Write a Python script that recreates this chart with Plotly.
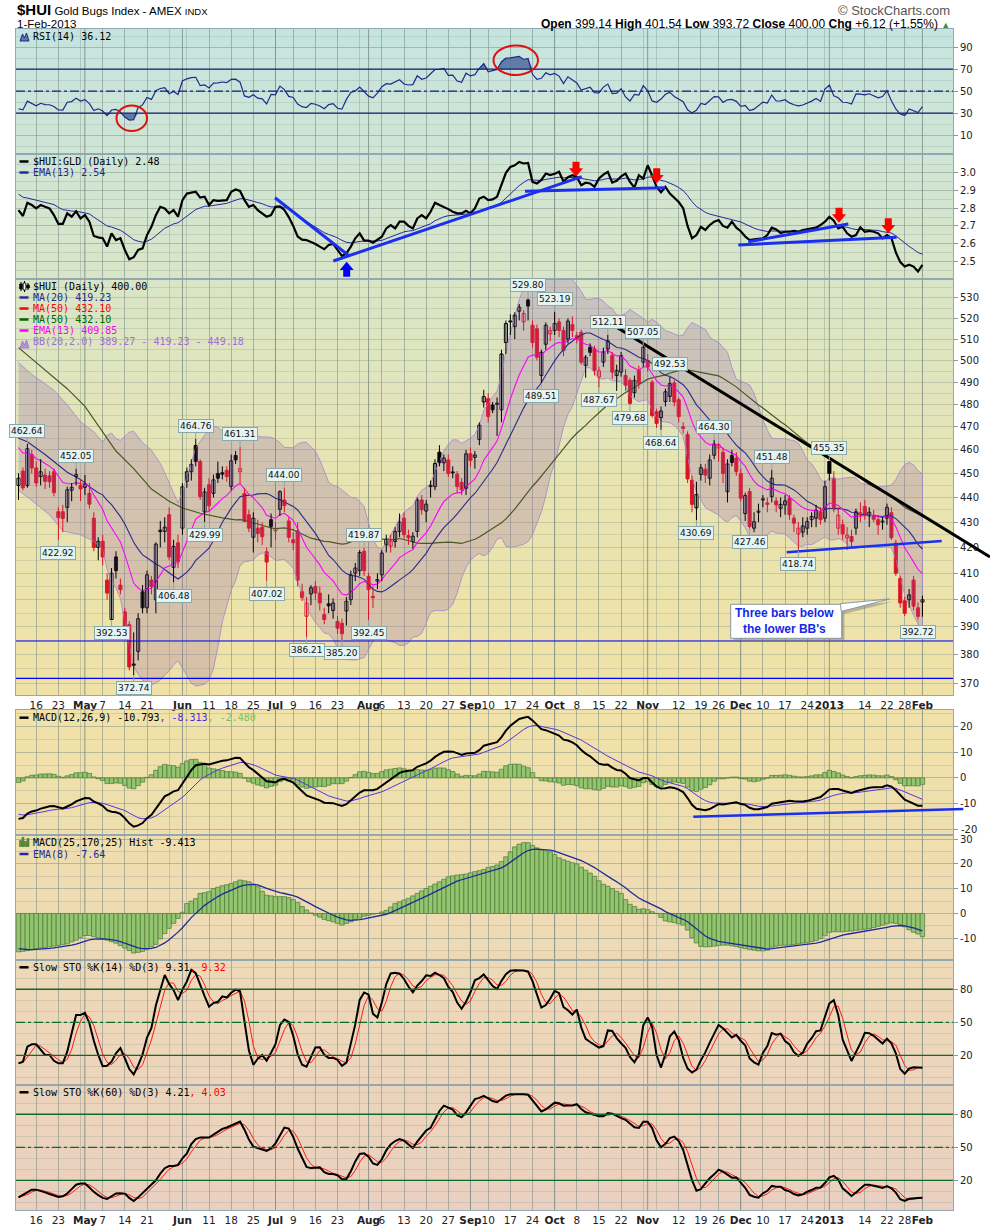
import numpy as np
import pandas as pd
import plotly.graph_objects as go

# ---------------------------------------------------------------- data
HOLIDAYS = ["2012-05-28", "2012-07-04", "2012-09-03", "2012-10-29", "2012-10-30",
            "2012-11-22", "2012-12-25", "2013-01-01", "2013-01-21"]
TRADING_DAYS = [d for d in pd.bdate_range("2012-04-10", "2013-02-01")
                if d.strftime("%Y-%m-%d") not in HOLIDAYS]

TICK_DATES = ["2012-04-16", "2012-04-23", "2012-05-01", "2012-05-07", "2012-05-14", "2012-05-21",
              "2012-06-01", "2012-06-11", "2012-06-18", "2012-06-25", "2012-07-02", "2012-07-09",
              "2012-07-16", "2012-07-23", "2012-08-01", "2012-08-06", "2012-08-13", "2012-08-20",
              "2012-08-27", "2012-09-04", "2012-09-10", "2012-09-17", "2012-09-24", "2012-10-01",
              "2012-10-08", "2012-10-15", "2012-10-22", "2012-11-01", "2012-11-12", "2012-11-19",
              "2012-11-26", "2012-12-03", "2012-12-10", "2012-12-17", "2012-12-24", "2013-01-02",
              "2013-01-14", "2013-01-22", "2013-01-28", "2013-02-01"]
TICK_LABELS = ["16", "23", "May", "7", "14", "21", "Jun", "11", "18", "25", "Jul", "9", "16", "23",
               "Aug", "6", "13", "20", "27", "Sep", "10", "17", "24", "Oct", "8", "15", "22", "Nov",
               "12", "19", "26", "Dec", "10", "17", "24", "2013", "14", "22", "28", "Feb"]
MONTH_LABELS = ["May", "Jun", "Jul", "Aug", "Sep", "Oct", "Nov", "Dec", "2013", "Feb"]

OPEN = [445, 451, 445, 458, 452.3, 448.7, 449.3, 449, 450.7, 434.2,
        434.2, 436, 443, 448.7, 445, 444.2, 441.7, 431.6, 420, 422.4,
        407.4, 392.7, 416.3, 405.5, 395.5, 390.8, 376.6, 381.2, 403, 397,
        407.4, 400, 426.8, 426.3, 433, 412.3, 421.8, 427.6, 446.7, 450.7,
        461.9, 455, 434.2, 445.3, 441.7, 450, 450.3, 451.3, 444.6, 457.6,
        450.7, 441.7, 433, 424, 427.6, 428, 418.3, 431, 426.5, 435.2,
        439, 430.5, 423, 426.5, 403, 393.9, 402.2, 405, 402.5, 394.5,
        398.5, 396, 392, 391.3, 395.8, 400, 410, 411, 418.5, 408.8,
        401.2, 407, 409.4, 421, 420.5, 422.3, 426.3, 431.6, 424.6, 422.3,
        426.3, 439, 434.5, 444.5, 444.5, 459, 454.5, 455.7, 450.5, 449.7,
        446.3, 443.8, 458.3, 456.8, 464.5, 481, 482.5, 479.7, 480, 477.5,
        508.4, 518.3, 516, 523.5, 518.3, 529, 516.7, 515, 493, 507.6,
        512.5, 514.2, 518.3, 514.2, 510, 517, 511.7, 513.3, 497.7, 506.2,
        505.4, 492.3, 499.2, 505.4, 502.3, 493, 494.6, 493, 490.8, 485.2,
        495.4, 499.2, 500, 490, 476.7, 474, 481.2, 483.5, 489.6, 482,
        470, 466.6, 447.2, 435.8, 449.6, 451.8, 448, 457.7, 460.8, 459,
        442.4, 457.6, 456.5, 450, 433.5, 442.5, 427.6, 434, 439, 437.8,
        440.4, 438.6, 435.6, 437, 439.7, 431.6, 425.3, 426, 427.6, 431,
        431.6, 434.2, 431.6, 455, 448, 427.6, 429, 423.7, 424.3, 427.6,
        432.8, 436.3, 432.5, 432.8, 431, 430, 431.6, 433.8, 421.7, 408,
        399.6, 400, 407.4, 397, 399.14]
HIGH = [450, 452.5, 462.64, 460, 455, 456, 452, 451, 452, 436,
        437, 444.5, 446, 452.05, 447.5, 449.3, 446, 434, 424, 425,
        410, 412, 418.5, 408, 397, 392, 388, 395, 405.5, 411,
        409, 422, 430.5, 432, 436, 423, 425, 446, 452.5, 456,
        464.76, 456, 444, 448, 449.5, 455, 453, 453, 458, 459.5,
        461.31, 444, 435, 434, 431, 430, 420, 433.5, 430, 443,
        444, 432, 426, 430, 406, 401, 405.5, 407, 405, 397,
        402, 400.5, 394, 393, 401, 411, 414, 419, 419.87, 410,
        405, 410, 419, 425, 425, 428, 433.5, 434, 427, 426,
        440, 441, 439, 447, 456, 462, 458, 458, 453, 451,
        448, 460, 461, 459.5, 472, 486.5, 485, 481, 483, 505,
        519, 522, 523, 527, 524, 529.8, 519, 517, 505, 518,
        516, 523.19, 520, 516, 520, 521, 513.5, 514.5, 502.5, 508,
        507, 497, 506, 512.11, 504, 498, 504, 496, 492, 493,
        497.5, 507.05, 503, 491, 478, 479, 487, 492.53, 491, 483,
        472, 468, 449, 446.5, 454, 454, 458, 464.3, 463, 461,
        456, 460, 459, 452, 442, 444, 434, 437.5, 441, 440,
        451.48, 440, 440, 441, 441, 433, 430, 432, 432, 434,
        437, 436, 447, 455.35, 451, 436, 431, 428, 427, 435.5,
        438, 439, 436, 435, 433, 432, 437.5, 436, 423, 409,
        401, 404, 409, 399, 401.54]
LOW = [439, 443, 444, 450, 444.5, 445, 443.5, 444, 440.5, 422.92,
       426, 430, 438.5, 445, 438.5, 441, 435.5, 418.5, 415, 413,
       400, 392.53, 408, 402, 386, 374.5, 372.74, 378, 395, 395,
       402, 395, 420, 422, 415, 406.48, 412, 425, 444, 447,
       453, 439, 429.99, 434.5, 440, 446, 447.5, 446.5, 443, 454,
       446, 430, 426, 418, 422, 421, 407.02, 420, 423, 432.5,
       434, 422, 419, 405, 399.5, 386.21, 398, 400, 396, 391,
       395, 393, 387.5, 385.2, 390.5, 398, 407, 409, 409, 392.45,
       397, 404, 407, 418, 418, 420, 424, 423.5, 421, 419.5,
       424, 433, 430, 440, 443, 453, 451, 448.5, 448, 442,
       441, 441, 453, 452, 462, 478.5, 472, 476, 466, 472,
       503, 512, 510, 519, 514, 519, 506, 500, 489.51, 505,
       509, 512, 511, 502, 508, 511, 508, 498, 492, 502,
       493, 487.67, 497, 503, 491.5, 486, 492.5, 486, 479.68, 483,
       487, 497, 495, 474, 469.5, 468.64, 479, 481, 479, 472,
       467, 446, 434, 430.69, 447, 446, 445, 456, 455, 446,
       438, 453, 449, 438.5, 430.5, 427.46, 426, 430, 436, 434,
       438, 434, 432, 433, 431, 426, 418.74, 424, 425, 428,
       428, 429, 430, 447, 434, 425, 423, 419, 420, 425,
       430, 431, 428, 430, 425, 427, 429, 423, 409, 397,
       394, 397, 396, 392.72, 393.72]
CLOSE = [448, 444, 460.5, 452.3, 446, 450.7, 446.7, 446.5, 442, 431.8,
         431.5, 443.2, 444.2, 449.5, 443.5, 445.5, 437.3, 420, 422.4, 416.3,
         402.5, 410, 411, 403.8, 387.3, 375.7, 376.3, 393, 397, 409.4,
         405, 421.3, 426.2, 428, 416.3, 420.4, 414.5, 444.4, 450.7, 453.8,
         455, 440.4, 442.3, 436.6, 447.3, 448, 449.7, 448.7, 455.3, 455.7,
         452, 430.3, 427.6, 431.6, 425.5, 424.2, 414.3, 428.3, 427.4, 442.4,
         436.7, 424, 421.8, 407.4, 400.8, 398.7, 404.5, 402.5, 398.8, 392.7,
         397.7, 398.8, 389.5, 387.5, 399.4, 409.4, 412, 418, 411, 403.8,
         400.8, 407.6, 417.8, 423.2, 422.5, 426.3, 430, 425, 423.8, 424.4,
         439, 435, 437.3, 445, 454.2, 454.5, 456.5, 450, 450.2, 444.5,
         443.2, 458.3, 455.5, 457.8, 470.7, 483.4, 474.5, 477.5, 480.1, 503,
         517.5, 518.5, 521.6, 525.5, 522.4, 526, 508.4, 501.5, 503.8, 516.7,
         514.2, 517.5, 514.2, 504.6, 518.7, 514.2, 510, 499.2, 501.5, 503.8,
         495.4, 495.2, 504, 509.2, 494.6, 495.4, 502.3, 488.5, 480.4, 490.8,
         489.5, 506.2, 497, 475, 471.5, 477, 485.6, 489.3, 481, 474.5,
         469.3, 447.7, 437.2, 441.2, 452.4, 449.3, 455.7, 462.5, 462.2, 450,
         454, 454.6, 450.7, 439.7, 440.8, 428.3, 430.2, 434.2, 439.1, 437.2,
         448, 437, 437.2, 438.6, 433, 429.6, 427.6, 428.5, 430.3, 432.3,
         434.8, 431, 444.5, 450, 435.6, 432.8, 425.3, 424.9, 422.3, 434.2,
         433.8, 432.9, 434, 431.2, 429, 430.3, 436, 423.8, 410, 398.8,
         395, 401.8, 397.6, 393.88, 400.0]

HUI_GLD = [2.789, 2.756, 2.831, 2.818, 2.799, 2.818, 2.808, 2.799, 2.761, 2.711,
           2.711, 2.771, 2.752, 2.782, 2.742, 2.761, 2.724, 2.643, 2.635, 2.630,
           2.583, 2.658, 2.620, 2.630, 2.564, 2.511, 2.523, 2.564, 2.573, 2.648,
           2.695, 2.761, 2.808, 2.799, 2.771, 2.789, 2.752, 2.846, 2.883, 2.890,
           2.893, 2.860, 2.865, 2.818, 2.846, 2.842, 2.846, 2.846, 2.893, 2.906,
           2.898, 2.846, 2.808, 2.818, 2.789, 2.771, 2.752, 2.761, 2.808, 2.810,
           2.790, 2.750, 2.700, 2.640, 2.622, 2.620, 2.611, 2.598, 2.583, 2.568,
           2.592, 2.598, 2.564, 2.530, 2.545, 2.583, 2.630, 2.658, 2.617, 2.617,
           2.605, 2.620, 2.639, 2.686, 2.705, 2.686, 2.724, 2.724, 2.700, 2.686,
           2.742, 2.761, 2.742, 2.780, 2.831, 2.818, 2.808, 2.795, 2.780, 2.771,
           2.771, 2.786, 2.771, 2.799, 2.855, 2.865, 2.846, 2.850, 2.865, 2.930,
           3.000, 3.034, 3.043, 3.062, 3.053, 3.056, 2.949, 2.940, 2.960, 2.996,
           2.987, 2.995, 3.006, 2.950, 2.975, 2.987, 2.977, 2.930, 2.944, 2.940,
           2.921, 2.968, 2.990, 3.006, 2.945, 2.955, 2.980, 2.996, 2.949, 2.917,
           2.987, 2.968, 3.043, 2.985, 2.920, 2.890, 2.921, 2.883, 2.860, 2.835,
           2.800, 2.700, 2.630, 2.648, 2.695, 2.677, 2.705, 2.724, 2.733, 2.700,
           2.690, 2.724, 2.690, 2.670, 2.640, 2.620, 2.624, 2.627, 2.630, 2.648,
           2.690, 2.680, 2.660, 2.667, 2.667, 2.672, 2.667, 2.677, 2.682, 2.686,
           2.690, 2.705, 2.724, 2.752, 2.730, 2.686, 2.695, 2.658, 2.639, 2.648,
           2.692, 2.667, 2.672, 2.667, 2.658, 2.630, 2.648, 2.630, 2.550, 2.495,
           2.470, 2.480, 2.470, 2.442, 2.479]

MACD_25_170_HIST = [-15.5, -15.3, -15.0, -14.6, -14.3, -14.0, -13.8, -13.5, -13.2, -12.9,
                    -12.6, -12.3, -11.5, -10.8, -9.8, -8.9, -8.9, -9.4, -9.8, -10.3,
                    -10.8, -11.4, -12.0, -13.0, -14.0, -15.0, -16.0, -15.7, -15.3, -14.5,
                    -13.5, -12.5, -10.3, -8.1, -6.0, -4.0, -2.0, 0.5, 4.0, 5.0,
                    6.0, 8.1, 8.4, 8.8, 10.1, 10.6, 11.2, 11.6, 12.1, 12.8,
                    13.5, 13.2, 12.8, 11.8, 10.8, 9.0, 7.4, 7.1, 6.8, 6.8,
                    6.8, 6.4, 5.6, 4.4, 2.8, 1.4, 0.2, -0.7, -1.5, -2.4,
                    -2.9, -3.4, -4.0, -4.7, -4.0, -3.4, -2.6, -1.8, -1.1, -0.7,
                    -0.3, 0.0, 0.6, 1.3, 2.6, 4.0, 4.7, 5.4, 6.1, 7.1,
                    8.1, 9.1, 10.1, 11.0, 11.9, 12.8, 13.8, 14.8, 15.2, 15.5,
                    15.7, 15.9, 16.4, 16.9, 17.3, 17.8, 18.6, 19.0, 19.6, 21.0,
                    22.9, 24.9, 26.9, 28.0, 28.6, 28.6, 27.5, 26.5, 25.5, 25.3,
                    24.9, 23.8, 22.5, 21.7, 21.1, 20.5, 20.0, 18.7, 17.5, 16.3,
                    15.0, 13.2, 11.8, 11.0, 10.0, 9.0, 8.1, 5.6, 3.7, 2.8,
                    1.7, 1.9, 1.5, 0.7, 0.0, -1.6, -3.0, -3.4, -3.7, -4.2,
                    -4.7, -6.7, -9.8, -11.9, -13.3, -13.5, -13.4, -13.2, -12.9, -12.8,
                    -12.8, -13.1, -13.4, -13.8, -14.2, -14.5, -14.8, -15.1, -15.1, -14.8,
                    -13.6, -13.2, -12.9, -12.8, -12.8, -12.6, -12.3, -12.0, -11.7, -11.4,
                    -10.9, -10.2, -9.0, -7.6, -7.4, -7.4, -7.4, -7.2, -7.1, -6.8,
                    -6.6, -6.4, -6.2, -5.7, -5.2, -4.7, -4.1, -3.8, -4.0, -4.6,
                    -5.4, -6.6, -7.6, -8.3, -9.413]

STO14_K_START = [12.7, 14.2, 27.9, 30.0, 30.0, 24.8, 20.3, 20.3, 15.0, 12.7,
                 12.7, 23.3, 40.0, 56.7, 56.7]
STO60_K_START = [4.5, 7.0, 9.5, 11.5, 11.5, 10.5, 9.0, 7.5, 6.0, 4.8,
                 5.5, 8.0, 12.0, 16.0, 17.0, 17.0, 13.5, 9.5, 6.5, 4.0,
                 3.0, 5.5, 8.0, 8.2, 7.9, 4.0, 1.2, 4.5, 8.5, 12.5,
                 16.0, 20.0, 26.0, 31.0, 33.0, 33.0, 34.0, 40.0, 44.5, 53.0,
                 57.5, 58.8, 58.8, 58.8, 61.5, 64.5, 66.7, 68.0, 70.0, 72.0,
                 73.3, 66.0, 57.0, 50.6, 49.0, 48.0, 46.7, 49.0, 53.6, 61.0,
                 67.9]
MA20_START_DAYS = [0, 2, 6, 11, 14, 16, 18]
MA20_START = [465, 463.5, 458, 450.5, 447.5, 444.5, 442]
MA50_START_DAYS = [0, 4, 8, 11, 15, 19, 22, 26, 30, 34, 37, 41, 46]
MA50_START = [506, 499, 492.5, 487, 479, 468, 459.5, 452, 443.5, 438.5, 435.7, 433.6, 431.7]
BBU_START_DAYS = [0, 3, 8, 11, 14, 17]
BBU_START = [499, 493.5, 486.3, 479.7, 472.2, 467.8]
BBL_START_DAYS = [0, 3, 7, 10, 14, 17]
BBL_START = [443, 438.8, 433, 426.5, 425, 422.4]
EMA13_START = 461.0
RSI_START_GAIN, RSI_START_LOSS = 3.35, 6.5
MACD_START_EMA12, MACD_START_EMA26, MACD_START_SIGNAL = 455.0, 471.0, -14.2
RATIO_EMA13_START = 2.88
HIST_EMA8_START = -14.2

PRICE_LABELS = [(2, 462.64, 1), (13, 452.05, 1), (9, 422.92, 0), (21, 392.53, 0), (26, 372.74, 0),
                (40, 464.76, 1), (42, 429.99, 0), (50, 461.31, 1), (35, 406.48, 0), (60, 444.00, 1),
                (56, 407.02, 0), (65, 386.21, 0), (73, 385.20, 0), (79, 392.45, 0), (78, 419.87, 1),
                (115, 529.80, 1), (121, 523.19, 1), (118, 489.51, 0), (131, 487.67, 0),
                (133, 512.11, 1), (138, 479.68, 0), (141, 507.05, 1), (145, 468.64, 0),
                (147, 492.53, 1), (157, 464.30, 1), (153, 430.69, 0), (170, 451.48, 1),
                (165, 427.46, 0), (176, 418.74, 0), (183, 455.35, 1), (203, 392.72, 0)]

N = len(TRADING_DAYS)
assert N == 205 and all(len(a) == N for a in (OPEN, HIGH, LOW, CLOSE, HUI_GLD, MACD_25_170_HIST))
assert len(TICK_DATES) == len(TICK_LABELS)

# ---------------------------------------------------------------- indicators
O, H, L, C = (np.array(a, float) for a in (OPEN, HIGH, LOW, CLOSE))
XI = np.arange(N)


def ema(a, n, seed):
    k = 2.0 / (n + 1)
    out = np.empty(len(a))
    out[0] = seed
    for i in range(1, len(a)):
        out[i] = out[i - 1] + k * (a[i] - out[i - 1])
    return out


def slow_k(n):
    hh = pd.Series(H).rolling(n).max()
    ll = pd.Series(L).rolling(n).min()
    fk = 100 * (pd.Series(C) - ll) / (hh - ll)
    return fk.rolling(3).mean().to_numpy()


cs = pd.Series(C)
ma20 = cs.rolling(20).mean().to_numpy()
sd20 = cs.rolling(20).std(ddof=0).to_numpy()
ma50 = cs.rolling(50).mean().to_numpy()
ema13 = ema(C, 13, EMA13_START)

ag, al = RSI_START_GAIN, RSI_START_LOSS
rsi = [100 - 100 / (1 + ag / al)]
for i in range(1, N):
    d = C[i] - C[i - 1]
    ag = (ag * 13 + max(d, 0)) / 14
    al = (al * 13 + max(-d, 0)) / 14
    rsi.append(100 - 100 / (1 + ag / al))
rsi = np.array(rsi)

macd = ema(C, 12, MACD_START_EMA12) - ema(C, 26, MACD_START_EMA26)
macd_sig = ema(macd, 9, MACD_START_SIGNAL)
macd_hist = macd - macd_sig

hist2 = np.array(MACD_25_170_HIST)
hist2_ema = ema(hist2, 8, HIST_EMA8_START)

ratio = np.array(HUI_GLD)
ratio_ema = ema(ratio, 13, RATIO_EMA13_START)

k14 = slow_k(14)
k14[:len(STO14_K_START)] = STO14_K_START
d14 = pd.Series(k14).rolling(3, min_periods=1).mean().to_numpy()
k60 = slow_k(60)
k60[:len(STO60_K_START)] = STO60_K_START
d60 = pd.Series(k60).rolling(3, min_periods=1).mean().to_numpy()

day_str = [d.strftime("%Y-%m-%d") for d in TRADING_DAYS]
TICK_IDX = [day_str.index(d) for d in TICK_DATES]
TICK_TEXT = [("<b>%s</b>" % t) if t in MONTH_LABELS else t for t in TICK_LABELS]
week_starts = [i for i in range(1, N)
               if TRADING_DAYS[i].isocalendar()[1] != TRADING_DAYS[i - 1].isocalendar()[1]]
month_starts = [i for i in range(1, N) if TRADING_DAYS[i].month != TRADING_DAYS[i - 1].month]

# ---------------------------------------------------------------- geometry helpers
W, HGT = 990, 1226
ML, MR, MT, MB = 16, 37, 29, 16
PW, PH = W - ML - MR, HGT - MT - MB


def PX(x):
    return (x - ML) / PW


def PY(y):
    return (HGT - MB - y) / PH


PANELS = {1: (29, 154.3), 2: (154.3, 279.3), 3: (279.3, 695), 4: (710, 835),
          5: (835, 960), 6: (960, 1085), 7: (1085, 1210)}

fig = go.Figure()

# ---------------------------------------------------------------- background gradient
STOPS = [(29, (197, 228, 223)), (154, (207, 229, 213)), (279, (217, 229, 199)),
         (480, (231, 228, 178)), (695, (240, 226, 166)), (710, (240, 226, 168)),
         (835, (239, 222, 174)), (960, (238, 217, 182)), (1210, (234, 208, 192))]


def grad(y):
    for (y0, c0), (y1, c1) in zip(STOPS[:-1], STOPS[1:]):
        if y0 <= y <= y1:
            t = (y - y0) / (y1 - y0)
            return "rgb(%d,%d,%d)" % tuple(round(a + (b - a) * t) for a, b in zip(c0, c1))
    return "rgb(%d,%d,%d)" % STOPS[-1][1]


shapes = []
for (ya, yb) in [(29, 695), (710, 1210)]:
    y = ya
    while y < yb:
        y2 = min(y + 5, yb)
        shapes.append(dict(type="rect", xref="paper", yref="paper", x0=0, x1=1,
                           y0=PY(y2), y1=PY(y), fillcolor=grad((y + y2) / 2),
                           line=dict(width=0), layer="below"))
        y = y2
for m in month_starts:
    for (ya, yb) in [(29, 695), (710, 1210)]:
        shapes.append(dict(type="line", xref="x", yref="paper", x0=m, x1=m, y0=PY(yb), y1=PY(ya),
                           line=dict(color="rgba(105,120,115,0.55)", width=1), layer="below"))

# ---------------------------------------------------------------- RSI panel
fig.add_trace(go.Scatter(x=XI, y=[70] * N, mode="lines", line=dict(width=0), xaxis="x", yaxis="y",
                         hoverinfo="skip"))
fig.add_trace(go.Scatter(x=XI, y=np.maximum(rsi, 70), mode="lines", line=dict(width=0), fill="tonexty",
                         fillcolor="rgba(85,112,160,0.9)", xaxis="x", yaxis="y", hoverinfo="skip"))
fig.add_trace(go.Scatter(x=XI, y=[30] * N, mode="lines", line=dict(width=0), xaxis="x", yaxis="y",
                         hoverinfo="skip"))
fig.add_trace(go.Scatter(x=XI, y=np.minimum(rsi, 30), mode="lines", line=dict(width=0), fill="tonexty",
                         fillcolor="rgba(85,112,160,0.9)", xaxis="x", yaxis="y", hoverinfo="skip"))
fig.add_trace(go.Scatter(x=XI, y=rsi, mode="lines", line=dict(color="#1c2a8a", width=1.2),
                         xaxis="x", yaxis="y"))
for v, dash in [(70, "solid"), (30, "solid"), (50, "dashdot")]:
    shapes.append(dict(type="line", xref="paper", yref="y", x0=0, x1=1, y0=v, y1=v,
                       line=dict(color="#14206e", width=1.3, dash=dash)))

# ---------------------------------------------------------------- ratio panel
fig.add_trace(go.Scatter(x=XI, y=ratio_ema, mode="lines", line=dict(color="#2626a0", width=1),
                         xaxis="x2", yaxis="y2"))
fig.add_trace(go.Scatter(x=XI, y=ratio, mode="lines", line=dict(color="#000000", width=2.2),
                         xaxis="x2", yaxis="y2"))

# ---------------------------------------------------------------- price panel
bbu_x = BBU_START_DAYS + list(range(19, N))
bbu_y = BBU_START + list(ma20[19:] + 2 * sd20[19:])
bbl_x = BBL_START_DAYS + list(range(19, N))
bbl_y = BBL_START + list(ma20[19:] - 2 * sd20[19:])
fig.add_trace(go.Scatter(x=bbu_x + bbl_x[::-1], y=bbu_y + bbl_y[::-1], mode="lines", fill="toself",
                         fillcolor="rgba(150,105,170,0.27)", line=dict(color="rgba(170,135,205,0.85)", width=1),
                         xaxis="x3", yaxis="y3", hoverinfo="skip"))
fig.add_trace(go.Scatter(x=MA50_START_DAYS + list(range(49, N)), y=MA50_START + list(ma50[49:]),
                         mode="lines", line=dict(color="#4b5823", width=1.2), xaxis="x3", yaxis="y3"))
fig.add_trace(go.Scatter(x=MA20_START_DAYS + list(range(19, N)), y=MA20_START + list(ma20[19:]),
                         mode="lines", line=dict(color="#2a2a8c", width=1.1), xaxis="x3", yaxis="y3"))
fig.add_trace(go.Scatter(x=XI, y=ema13, mode="lines", line=dict(color="#ff00ff", width=1.1),
                         xaxis="x3", yaxis="y3"))

prevC = np.r_[O[0], C[:-1]]
up = C >= prevC
RED, BLK = "#dc1428", "#000000"
col = np.where(up, BLK, RED)
fillc = np.where(C < O, col, "#ffffff")
lo = np.minimum(O, C)
hgt = np.maximum(np.abs(C - O), 0.45)
for ccol, mask in [(BLK, up), (RED, ~up)]:
    wx, wy = [], []
    for i in np.where(mask)[0]:
        wx += [i, i, None]
        wy += [L[i], H[i], None]
    fig.add_trace(go.Scatter(x=wx, y=wy, mode="lines", line=dict(color=ccol, width=1),
                             xaxis="x3", yaxis="y3", hoverinfo="skip"))
fig.add_trace(go.Bar(x=XI, y=hgt, base=lo, width=0.7,
                     marker=dict(color=list(fillc), line=dict(color=list(col), width=1)),
                     xaxis="x3", yaxis="y3"))

# ---------------------------------------------------------------- MACD(12,26,9)
fig.add_trace(go.Bar(x=XI, y=macd_hist, width=1.0,
                     marker=dict(color="#93c46f", line=dict(color="#4d7a35", width=0.7)),
                     xaxis="x4", yaxis="y4"))
fig.add_trace(go.Scatter(x=XI, y=macd_sig, mode="lines", line=dict(color="#5a32e0", width=1),
                         xaxis="x4", yaxis="y4"))
fig.add_trace(go.Scatter(x=XI, y=macd, mode="lines", line=dict(color="#000000", width=2),
                         xaxis="x4", yaxis="y4"))

# ---------------------------------------------------------------- MACD(25,170,25) hist
fig.add_trace(go.Bar(x=XI, y=hist2, width=1.0,
                     marker=dict(color="#93c46f", line=dict(color="#4d7a35", width=0.7)),
                     xaxis="x5", yaxis="y5"))
fig.add_trace(go.Scatter(x=XI, y=hist2_ema, mode="lines", line=dict(color="#1e2a9a", width=1.3),
                         xaxis="x5", yaxis="y5"))

# ---------------------------------------------------------------- stochastics
for ax, k, d in [("6", k14, d14), ("7", k60, d60)]:
    fig.add_trace(go.Scatter(x=XI, y=d, mode="lines", line=dict(color="#ff1a1a", width=1),
                             xaxis="x" + ax, yaxis="y" + ax))
    fig.add_trace(go.Scatter(x=XI, y=k, mode="lines", line=dict(color="#000000", width=2),
                             xaxis="x" + ax, yaxis="y" + ax))
    for v, dash in [(80, "solid"), (20, "solid"), (50, "dashdot")]:
        shapes.append(dict(type="line", xref="paper", yref="y" + ax, x0=0, x1=1, y0=v, y1=v,
                           line=dict(color="#0c6a2a", width=1.3, dash=dash)))

# ---------------------------------------------------------------- drawings (hand-drawn objects)
BLUE = "#1a2ff0"


def seg(x0, y0, x1, y1, color, width):
    shapes.append(dict(type="line", xref="paper", yref="paper", x0=PX(x0), y0=PY(y0),
                       x1=PX(x1), y1=PY(y1), line=dict(color=color, width=width)))


def poly(pts, fill, line="rgba(0,0,0,0)", lw=0):
    path = "M " + " L ".join("%.5f,%.5f" % (PX(x), PY(y)) for x, y in pts) + " Z"
    shapes.append(dict(type="path", xref="paper", yref="paper", path=path, fillcolor=fill,
                       line=dict(color=line, width=lw)))


def arrow(tx, ty, down=True, color="#ff0000"):
    s = 1 if down else -1
    h, hh, w, sw = 15, 8.4, 14, 7
    pts = [(tx - sw / 2, ty - s * h), (tx + sw / 2, ty - s * h), (tx + sw / 2, ty - s * hh),
           (tx + w / 2, ty - s * hh), (tx, ty), (tx - w / 2, ty - s * hh), (tx - sw / 2, ty - s * hh)]
    poly(pts, color)


# ratio panel trend lines
seg(275, 197.7, 349.3, 256, BLUE, 3)
seg(333.3, 261, 581.7, 176.7, BLUE, 3)
seg(525, 191.3, 665, 187.7, BLUE, 3)
seg(738.3, 245, 896.7, 237.3, BLUE, 3)
seg(748.3, 241.7, 848.3, 224, BLUE, 3)
for tx, ty in [(576, 176.7), (656.7, 183.3), (839, 222.7), (888.3, 233.3)]:
    arrow(tx, ty, True, "#ff0000")
arrow(346.7, 261.7, False, "#0000ff")
# RSI circles
shapes.append(dict(type="circle", xref="paper", yref="paper", x0=PX(116.5), x1=PX(147),
                   y0=PY(131), y1=PY(105.5), line=dict(color="#e01010", width=2)))
shapes.append(dict(type="circle", xref="paper", yref="paper", x0=PX(493.5), x1=PX(538),
                   y0=PY(75), y1=PY(45.5), line=dict(color="#e01010", width=2)))
# price panel lines
seg(613, 325, 990, 557, "#000000", 3)
seg(786.7, 552.3, 941.7, 541, BLUE, 2.5)
seg(16, 641, 953, 641, "#0000ff", 1.2)
seg(16, 678.3, 953, 678.3, "#0000ff", 1.2)
# MACD support line
seg(693.3, 816.7, 963.3, 809, BLUE, 2.5)
# callout
shapes.append(dict(type="rect", xref="paper", yref="paper", x0=PX(733.5), x1=PX(844.5),
                   y0=PY(641), y1=PY(607), fillcolor="rgba(120,120,120,0.45)", line=dict(width=0)))
poly([(843, 606), (892, 602), (844, 614)], "rgba(120,120,120,0.45)")
shapes.append(dict(type="rect", xref="paper", yref="paper", x0=PX(730.7), x1=PX(841.7),
                   y0=PY(638.3), y1=PY(604.3), fillcolor="#ffffff", line=dict(color="#8a96a0", width=1)))
poly([(840.5, 603.6), (889.3, 599), (841.2, 611.5)], "#ffffff", "#8a96a0", 1)
# legend icons
poly([(20, 41), (22.5, 34), (24.5, 38), (26.5, 33), (29, 41)], "#5f78a6", "#1c2a8a", 1)
poly([(20, 348), (22.5, 341), (24.5, 345), (26.5, 340), (29, 348)], "rgba(160,120,200,0.7)", "#a07ad8", 1)
for k, (x, hh) in enumerate([(20.5, 6), (23, 9), (25.5, 5), (28, 8)]):
    shapes.append(dict(type="rect", xref="paper", yref="paper", x0=PX(x - 1), x1=PX(x + 1),
                       y0=PY(846.5), y1=PY(846.5 - hh), fillcolor="#5f9a3a", line=dict(color="#2d5a1a", width=0.5)))
for x, y0, y1, filled in [(21, 282, 291, True), (24.5, 281, 292, False), (28, 283, 290, True)]:
    shapes.append(dict(type="line", xref="paper", yref="paper", x0=PX(x), x1=PX(x), y0=PY(y1), y1=PY(y0),
                       line=dict(color="#000", width=1)))
    shapes.append(dict(type="rect", xref="paper", yref="paper", x0=PX(x - 1.3), x1=PX(x + 1.3),
                       y0=PY(y1 - 2), y1=PY(y0 + 2), fillcolor="#000" if filled else "#fff",
                       line=dict(color="#000", width=0.8)))
for y, c in [(161.5, "#000000"), (172.5, "#2626a0"), (297.5, "#2a2a8c"), (308.5, "#ff0000"),
             (319.5, "#006400"), (330.5, "#ff00ff"), (717.7, "#000000"), (854, "#1e2a9a"),
             (967.3, "#000000"), (1092.3, "#000000")]:
    seg(19.5, y, 28.5, y, c, 2.5)

# ---------------------------------------------------------------- annotations
anns = []


def T(x, y, text, size=10, color="#000", anchor="left", family="DejaVu Sans Mono"):
    anns.append(dict(x=PX(x), y=PY(y), xref="paper", yref="paper", text=text, showarrow=False,
                     xanchor=anchor, yanchor="middle", font=dict(size=size, color=color, family=family)))


T(15, 9.5, "<b><span style='font-size:15px'>$HUI</span></b> Gold Bugs Index - AMEX "
           "<span style='font-size:9.5px'>INDX</span>", size=11.5, family="Liberation Sans")
T(15, 24, "1-Feb-2013", size=11.5, family="Liberation Sans")
T(952, 10, "© StockCharts.com", size=13, color="#555", anchor="right", family="Liberation Sans")
T(952, 24, "<b>Open</b> 399.14 <b>High</b> 401.54 <b>Low</b> 393.72 <b>Close</b> 400.00 "
           "<b>Chg</b> +6.12 (+1.55%) <span style='color:#2c9a2c;font-size:9px'>▲</span>",
  size=12, anchor="right", family="Liberation Sans")

T(31, 36.5, "RSI(14) 36.12")
T(31, 161.5, "$HUI:GLD (Daily) 2.48")
T(31, 172.5, "EMA(13) 2.54", color="#2626a0")
T(31, 286.5, "$HUI (Daily) 400.00")
T(31, 297.5, "MA(20) 419.23", color="#2a2a8c")
T(31, 308.5, "MA(50) 432.10", color="#ff0000")
T(31, 319.5, "MA(50) 432.10", color="#006400")
T(31, 330.5, "EMA(13) 409.85", color="#ff00ff")
T(31, 341.5, "BB(20,2.0) 389.27 - 419.23 - 449.18", color="#a070d8")
T(31, 717.7, "MACD(12,26,9) -10.793<span style='color:#4a2ae0'>, -8.313</span>"
             "<span style='color:#7cc060'>, -2.480</span>")
T(31, 842.3, "MACD(25,170,25) Hist -9.413")
T(31, 854, "EMA(8) -7.64", color="#1e2a9a")
T(31, 967.3, "Slow STO %K(14) %D(3) 9.31<span style='color:#ff0000'>, 9.32</span>")
T(31, 1092.3, "Slow STO %K(60) %D(3) 4.21<span style='color:#ff0000'>, 4.03</span>")
T(733, 620.5, "<b>Three bars below<br>the lower BB's</b>", size=12, color="#1428e6",
  family="Liberation Sans")
# lowest MACD(12,26,9) scale label sits at the panel seam; written out explicitly
T(959, 829.2, "-20", size=10, color="#222", family="DejaVu Sans")

for i, v, hi in PRICE_LABELS:
    anns.append(dict(x=i, y=np.log10(v), xref="x3", yref="y3", text="%.2f" % v, showarrow=True,
                     arrowhead=0, arrowwidth=1, arrowcolor="#8aa8a8", ax=0, ay=-13 if hi else 13,
                     standoff=0, bgcolor="#e4f4f2", bordercolor="#8aa8a8", borderwidth=1, borderpad=1,
                     font=dict(size=9, family="DejaVu Sans", color="#111")))

# ---------------------------------------------------------------- axes
GRID = "rgba(120,140,130,0.33)"
LINE = "#94a8b4"
layout = dict(width=W, height=HGT, margin=dict(l=ML, r=MR, t=MT, b=MB, autoexpand=False),
              paper_bgcolor="#ffffff", plot_bgcolor="rgba(0,0,0,0)", showlegend=False,
              barmode="overlay", shapes=shapes, annotations=anns, hovermode=False)
YAX = {
    1: dict(range=[-7.3, 106.4], tickvals=[10, 30, 50, 70, 90], minor=dict(dtick=10, tick0=0)),
    2: dict(range=[2.398, 3.105], tickvals=[2.5, 2.6, 2.7, 2.8, 2.9, 3.0],
            ticktext=["2.5", "2.6", "2.7", "2.8", "2.9", "3.0"], minor=dict(dtick=0.05, tick0=0)),
    3: dict(type="log", range=[np.log10(366), np.log10(539.3)], tickvals=list(range(370, 531, 10)),
            ticktext=[str(v) for v in range(370, 531, 10)],
            minor=dict(tickmode="array", tickvals=list(range(365, 540, 10)))),
    4: dict(range=[-22.3, 26.5], tickvals=[-20, -10, 0, 10, 20],
            ticktext=["", "-10", "0", "10", "20"], minor=dict(dtick=5, tick0=0)),
    5: dict(range=[-18.8, 31.7], tickvals=[-10, 0, 10, 20, 30],
            ticktext=["-10", "0", "10", "20", "30"], minor=dict(dtick=5, tick0=0)),
    6: dict(range=[-7, 106.6], tickvals=[20, 50, 80], minor=dict(dtick=10, tick0=0)),
    7: dict(range=[-7, 106.6], tickvals=[20, 50, 80], minor=dict(dtick=10, tick0=0)),
}
for n in range(1, 8):
    ya, yb = PANELS[n]
    sfx = "" if n == 1 else str(n)
    layout["xaxis" + sfx] = dict(
        domain=[0, 1], anchor="y" + sfx, range=[-0.564, 210.9], tickmode="array", tickvals=TICK_IDX,
        ticktext=TICK_TEXT, showticklabels=n in (3, 7), ticks="", tickangle=0, automargin=False,
        showgrid=True, gridcolor=GRID, gridwidth=1, zeroline=False, showline=True, mirror=True,
        linecolor=LINE, linewidth=1, tickfont=dict(family="DejaVu Sans", size=10.5, color="#222"),
        minor=dict(tickmode="array", tickvals=week_starts, showgrid=True, gridcolor=GRID, ticks=""))
    ydict = dict(domain=[PY(yb), PY(ya)], anchor="x" + sfx, side="right", showgrid=True, gridcolor=GRID,
                 zeroline=False, showline=True, mirror=True, linecolor=LINE, linewidth=1,
                 ticks="outside", ticklen=4, tickcolor="#8a9aa4", automargin=False,
                 ticklabeloverflow="allow",
                 tickfont=dict(family="DejaVu Sans", size=10, color="#222"))
    yx = dict(YAX[n])
    mn = dict(yx.pop("minor"))
    mn.update(showgrid=True, gridcolor="rgba(120,140,130,0.22)", ticks="")
    ydict.update(yx)
    ydict["minor"] = mn
    ydict["tickmode"] = "array"
    layout["yaxis" + sfx] = ydict

fig.update_layout(**layout)
fig.write_html("out.html", config={"displayModeBar": False, "staticPlot": True},
               post_script="document.body.style.margin='0px';"
                           "document.body.style.padding='0px';")
